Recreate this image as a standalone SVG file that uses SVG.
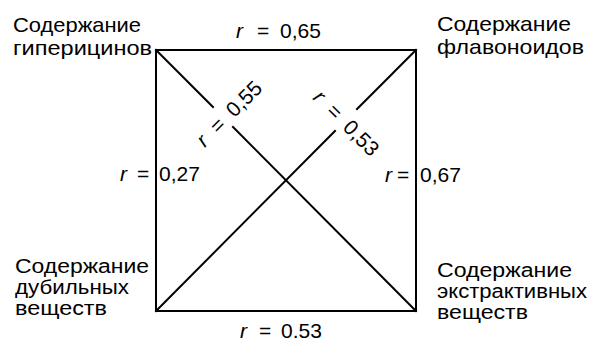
<svg xmlns="http://www.w3.org/2000/svg" width="598" height="344" viewBox="0 0 598 344">
<style>
text{font-family:"Liberation Sans",Arial,sans-serif;font-size:21px;fill:#000}
.i{font-style:italic}
.s{font-size:20px}
.ln{stroke:#000;stroke-width:2;fill:none;stroke-linecap:square}
</style>
<rect width="598" height="344" fill="#fff"/>
<g id="connectors">
<line class="ln" x1="156" y1="50" x2="416" y2="50"/>
<line class="ln" x1="156" y1="311" x2="416" y2="311"/>
<line class="ln" x1="156" y1="50" x2="156" y2="311"/>
<line class="ln" x1="416" y1="50" x2="416" y2="311"/>
<line class="ln" x1="156" y1="50" x2="213" y2="107"/>
<line class="ln" x1="233" y1="127" x2="416" y2="311"/>
<line class="ln" x1="416" y1="50" x2="357" y2="109"/>
<line class="ln" x1="335" y1="131" x2="156" y2="311"/>
</g>
<g id="labels">
<text><tspan class="i" x="236" y="38">r</tspan><tspan x="257" y="38">=</tspan><tspan x="280" y="38">0,65</tspan></text>
<text><tspan class="i" x="240" y="338">r</tspan><tspan x="259" y="338">=</tspan><tspan x="281" y="338">0.53</tspan></text>
<text><tspan class="i" x="120" y="181">r</tspan><tspan x="137" y="181">=</tspan><tspan x="159" y="181">0,27</tspan></text>
<text><tspan class="i" x="385" y="182">r</tspan><tspan x="397" y="182">=</tspan><tspan x="420" y="182">0,67</tspan></text>
<text transform="translate(231,112) rotate(-45)"><tspan class="i" x="-44" y="7">r</tspan><tspan x="-25" y="7">=</tspan><tspan x="-2" y="7">0,55</tspan></text>
<text transform="translate(348,125) rotate(45)"><tspan class="i" x="-44" y="7">r</tspan><tspan x="-25" y="7">=</tspan><tspan x="-2" y="7">0,53</tspan></text>
</g>
<g id="node-hyp"><text x="13" y="32" textLength="128" lengthAdjust="spacingAndGlyphs">Содержание</text><text x="13" y="55" textLength="139" lengthAdjust="spacingAndGlyphs">гиперицинов</text></g>
<g id="node-flav"><text x="437" y="31" textLength="134" lengthAdjust="spacingAndGlyphs">Содержание</text><text x="437" y="54" textLength="147" lengthAdjust="spacingAndGlyphs">флавоноидов</text></g>
<g id="node-tan"><text class="s" x="15" y="273" textLength="134" lengthAdjust="spacingAndGlyphs">Содержание</text><text class="s" x="15" y="294" textLength="114" lengthAdjust="spacingAndGlyphs">дубильных</text><text class="s" x="15" y="315" textLength="92" lengthAdjust="spacingAndGlyphs">веществ</text></g>
<g id="node-extr"><text class="s" x="437" y="277" textLength="135" lengthAdjust="spacingAndGlyphs">Содержание</text><text class="s" x="437" y="298" textLength="150" lengthAdjust="spacingAndGlyphs">экстрактивных</text><text class="s" x="437" y="319" textLength="91" lengthAdjust="spacingAndGlyphs">веществ</text></g>
</svg>
